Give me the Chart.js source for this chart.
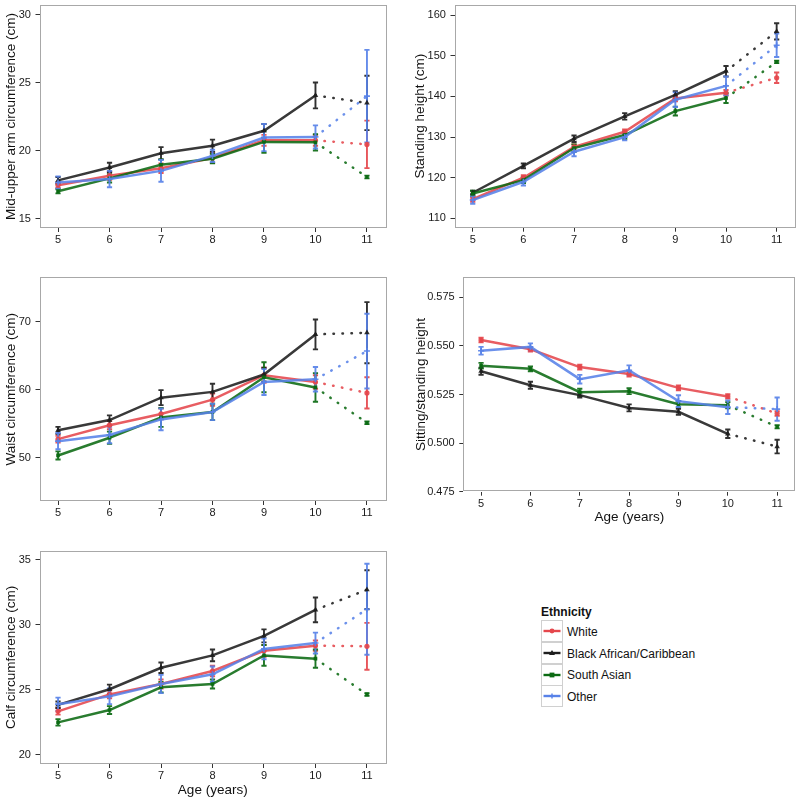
<!DOCTYPE html>
<html>
<head>
<meta charset="utf-8">
<script src="https://cdn.jsdelivr.net/npm/chart.js@4.4.0/dist/chart.umd.min.js"></script>
<style>
  body { margin: 0; background: #fff; width: 800px; height: 802px; position: relative; overflow: hidden;
         font-family: "Liberation Sans", Arial, sans-serif; }
  canvas { position: absolute; }
  #legend { position: absolute; left: 541px; top: 604px; font-size: 12px; color: #111; }
  #legend .title { font-weight: bold; height: 17px; line-height: 17px; }
  #legend .row { height: 21.7px; display: flex; align-items: center; }
  #legend .key { width: 20px; height: 20px; border: 1px solid #d0d0d0; margin-top: -1px; box-sizing: content-box; }
  #legend .row:first-of-type .key { margin-top: 0; }
  #legend .lab { margin-left: 4px; }
</style>
</head>
<body>
<canvas id="muac" width="400" height="265" style="left:0;top:0"></canvas>
<canvas id="height" width="400" height="265" style="left:400px;top:0"></canvas>
<canvas id="waist" width="400" height="265" style="left:0;top:265px"></canvas>
<canvas id="ratio" width="400" height="265" style="left:400px;top:265px"></canvas>
<canvas id="calf" width="400" height="272" style="left:0;top:530px"></canvas>
<div id="legend"></div>

<script>
// ages on the x axis, groups in legend order
const ages = [5, 6, 7, 8, 9, 10, 11];
const groups = ['White', 'Black African/Caribbean', 'South Asian', 'Other'];
const colors = ['#E5474C', '#1E1E1E', '#0B6A12', '#5882E8'];
const shapes = ['circle', 'triangle', 'rect', 'cross'];

// rows: White, Black African/Caribbean, South Asian, Other
const muacMean = [
    [17.45, 18.15, 18.7, 19.45, 20.75, 20.75, 20.45],
    [17.8, 18.75, 19.8, 20.35, 21.45, 24.05, 23.5],
    [17.0, 17.95, 18.95, 19.4, 20.63, 20.6, 18.05],
    [17.65, 17.9, 18.5, 19.6, 20.95, 21.0, 24.0]
];
const muacErr = [
    [0.2, 0.3, 0.35, 0.35, 0.4, 0.4, 1.75],
    [0.25, 0.35, 0.45, 0.45, 0.5, 0.95, 2.0],
    [0.15, 0.3, 0.4, 0.35, 0.8, 0.6, 0.1],
    [0.45, 0.6, 0.8, 0.45, 1.0, 0.85, 3.4]
];
const heightMean = [
    [114.7, 120.0, 127.6, 131.3, 139.5, 140.9, 144.6],
    [116.3, 122.9, 129.6, 135.1, 140.4, 146.2, 156.0],
    [116.1, 119.4, 127.3, 130.5, 136.4, 139.6, 148.5],
    [114.5, 119.0, 126.4, 130.0, 139.2, 142.6, 152.6]
];
const heightErr = [
    [0.6, 0.6, 0.6, 0.6, 0.7, 0.7, 1.3],
    [0.5, 0.6, 0.8, 0.8, 0.9, 1.3, 2.0],
    [0.7, 0.7, 0.9, 0.9, 1.1, 1.2, 0.3],
    [0.9, 0.9, 1.1, 0.8, 1.8, 2.3, 2.9]
];
const waistMean = [
    [52.7, 54.75, 56.4, 58.5, 62.1, 61.1, 59.5],
    [54.0, 55.5, 58.8, 59.65, 62.2, 68.1, 68.35],
    [50.3, 52.9, 55.9, 56.7, 61.8, 60.3, 55.1],
    [52.4, 53.3, 55.6, 56.7, 61.1, 61.5, 65.65]
];
const waistErr = [
    [0.5, 0.6, 0.8, 0.9, 1.1, 1.0, 2.3],
    [0.5, 0.7, 1.1, 1.2, 1.0, 2.2, 4.5],
    [0.6, 0.9, 1.4, 1.2, 2.2, 2.1, 0.2],
    [1.2, 1.2, 1.6, 1.2, 1.9, 1.8, 5.5]
];
const ratioMean = [
    [0.5530, 0.5483, 0.5391, 0.5355, 0.5284, 0.5240, 0.5152],
    [0.5370, 0.5298, 0.5247, 0.5181, 0.5161, 0.5048, 0.4982],
    [0.5398, 0.5382, 0.5262, 0.5267, 0.5200, 0.5195, 0.5084],
    [0.5475, 0.5495, 0.5329, 0.5375, 0.5216, 0.5185, 0.5175]
];
const ratioErr = [
    [0.0012, 0.0012, 0.0012, 0.0013, 0.0012, 0.0011, 0.0012],
    [0.0018, 0.0018, 0.0013, 0.0018, 0.0016, 0.0022, 0.0035],
    [0.0015, 0.0012, 0.0018, 0.0015, 0.0015, 0.0016, 0.0008],
    [0.0020, 0.0018, 0.0022, 0.0025, 0.0030, 0.0035, 0.0060]
];
const calfMean = [
    [23.35, 24.65, 25.45, 26.45, 28.0, 28.4, 28.35],
    [23.85, 25.05, 26.7, 27.65, 29.15, 31.15, 32.7],
    [22.5, 23.45, 25.2, 25.45, 27.65, 27.4, 24.65],
    [23.9, 24.5, 25.45, 26.2, 28.15, 28.6, 31.2]
];
const calfErr = [
    [0.25, 0.3, 0.35, 0.4, 0.45, 0.4, 1.8],
    [0.25, 0.35, 0.4, 0.45, 0.5, 0.95, 1.5],
    [0.25, 0.3, 0.4, 0.35, 0.8, 0.7, 0.1],
    [0.5, 0.6, 0.7, 0.6, 0.8, 0.8, 3.5]
];

const muacTicks = [15, 20, 25, 30];
const heightTicks = [110, 120, 130, 140, 150, 160];
const waistTicks = [50, 60, 70];
const ratioTicks = [0.475, 0.500, 0.525, 0.550, 0.575];
const calfTicks = [20, 25, 30, 35];

Chart.defaults.font.family = '"Liberation Sans", Arial, sans-serif';
Chart.defaults.font.size = 11;
Chart.defaults.color = '#1a1a1a';

function alpha(hex, a) {
    const n = parseInt(hex.slice(1), 16);
    return `rgba(${n >> 16}, ${(n >> 8) & 255}, ${n & 255}, ${a})`;
}

// error bars under the lines, grey panel border on top
const panelExtras = {
    id: 'panelExtras',
    beforeDatasetsDraw(chart) {
        const { ctx, scales: { x, y } } = chart;
        chart.data.datasets.forEach((ds) => {
            ctx.save();
            ctx.strokeStyle = ds.barColor;
            ctx.lineWidth = 1.9;
            ds.data.forEach((p, j) => {
                const e = ds.errors[j];
                const px = x.getPixelForValue(p.x);
                const top = y.getPixelForValue(p.y + e);
                const bot = y.getPixelForValue(p.y - e);
                ctx.beginPath();
                ctx.moveTo(px, top); ctx.lineTo(px, bot);
                ctx.moveTo(px - 2.6, top); ctx.lineTo(px + 2.6, top);
                ctx.moveTo(px - 2.6, bot); ctx.lineTo(px + 2.6, bot);
                ctx.stroke();
            });
            ctx.restore();
        });
    },
    afterDraw(chart) {
        const { ctx, chartArea: a } = chart;
        ctx.save();
        ctx.strokeStyle = '#a8a8a8';
        ctx.lineWidth = 1;
        ctx.strokeRect(Math.round(a.left) + 0.5, Math.round(a.top) + 0.5,
            Math.round(a.right - a.left) - 1, Math.round(a.bottom - a.top) - 1);
        ctx.restore();
    }
};

function makePanel(id, yTitle, means, errs, yTicks, yMin, yMax, box) {
    const datasets = groups.map((g, i) => ({
        label: g,
        data: ages.map((a, j) => ({ x: a, y: means[i][j] })),
        errors: errs[i],
        barColor: alpha(colors[i], 0.92),
        borderColor: alpha(colors[i], 0.88),
        backgroundColor: alpha(colors[i], 0.92),
        borderWidth: 2.5,
        borderCapStyle: 'round',
        pointStyle: shapes[i],
        pointRadius: shapes[i] === 'cross' ? 3 : (shapes[i] === 'triangle' ? 3.2 : 2.6),
        pointBorderWidth: shapes[i] === 'cross' ? 1.6 : 0,
        pointBorderColor: alpha(colors[i], 0.92),
        pointHoverRadius: 3,
        order: groups.length - i,
        tension: 0,
        segment: {
            borderDash: (ctx) => ctx.p0DataIndex === ages.length - 2 ? [0.5, 8.5] : undefined
        }
    }));

    new Chart(document.getElementById(id), {
        type: 'line',
        data: { datasets },
        options: {
            responsive: false,
            animation: false,
            layout: { padding: { top: box.padTop, right: box.padRight, left: 0, bottom: 0 } },
            plugins: { legend: { display: false }, tooltip: { enabled: false } },
            scales: {
                x: {
                    type: 'linear',
                    min: 4.64,
                    max: 11.37,
                    border: { display: false },
                    grid: { drawOnChartArea: false, drawTicks: true, tickLength: 4, tickColor: '#333', tickWidth: 1 },
                    ticks: { padding: 1.5, color: '#1a1a1a', callback: (v) => String(v) },
                    title: {
                        display: !!box.ageTitle,
                        text: 'Age (years)',
                        color: '#111',
                        font: { size: 13.5 },
                        padding: { top: 0, bottom: box.xTitlePad || 0 }
                    },
                    afterBuildTicks: (s) => { s.ticks = ages.map((v) => ({ value: v })); },
                    afterFit: (s) => { s.height = box.xHeight; s.paddingLeft = 0; s.paddingRight = 0; }
                },
                y: {
                    type: 'linear',
                    min: yMin,
                    max: yMax,
                    border: { display: false },
                    grid: { drawOnChartArea: false, drawTicks: true, tickLength: 4, tickColor: '#333', tickWidth: 1 },
                    ticks: {
                        padding: 4.6,
                        color: '#1a1a1a',
                        callback: (v) => box.decimals ? v.toFixed(box.decimals) : String(v)
                    },
                    title: {
                        display: true,
                        text: yTitle,
                        color: '#111',
                        font: { size: 13.5 },
                        padding: { top: box.yTitlePad, bottom: 0 }
                    },
                    afterBuildTicks: (s) => { s.ticks = yTicks.map((v) => ({ value: v })); },
                    afterFit: (s) => { s.width = box.yWidth; s.paddingTop = 0; s.paddingBottom = 0; }
                }
            }
        },
        plugins: [panelExtras]
    });
}

makePanel('muac', 'Mid-upper arm circumference (cm)', muacMean, muacErr, muacTicks, 14.3, 30.7,
    { padTop: 5, padRight: 14, yWidth: 39.5, xHeight: 37, yTitlePad: 2.7 });
makePanel('height', 'Standing height (cm)', heightMean, heightErr, heightTicks, 107.7, 162.6,
    { padTop: 4, padRight: 4, yWidth: 54.5, xHeight: 37.3, yTitlePad: 12.4 });
makePanel('waist', 'Waist circumference (cm)', waistMean, waistErr, waistTicks, 43.6, 76.5,
    { padTop: 12.3, padRight: 14, yWidth: 39.5, xHeight: 29, yTitlePad: 2.7 });
makePanel('ratio', 'Sitting/standing height', ratioMean, ratioErr, ratioTicks, 0.475, 0.5853,
    { padTop: 12.3, padRight: 4, yWidth: 63.3, xHeight: 38.3, yTitlePad: 12.7, ageTitle: true, xTitlePad: 4.2, decimals: 3 });
makePanel('calf', 'Calf circumference (cm)', calfMean, calfErr, calfTicks, 19.3, 35.7,
    { padTop: 20.7, padRight: 14, yWidth: 39.5, xHeight: 38, yTitlePad: 2.7, ageTitle: true, xTitlePad: 3.2 });

// legend drawn as html next to the bottom panel
function markerSvg(shape, color) {
    let m = '';
    if (shape === 'circle') m = `<circle cx="10" cy="10" r="2.4" fill="${color}"/>`;
    if (shape === 'triangle') m = `<polygon points="10,7 13,12 7,12" fill="${color}"/>`;
    if (shape === 'rect') m = `<rect x="7.6" y="7.6" width="4.8" height="4.8" fill="${color}"/>`;
    if (shape === 'cross') m = `<path d="M10 7.4V12.6M7.4 10H12.6" stroke="${color}" stroke-width="1.4"/>`;
    return `<svg width="20" height="20"><line x1="1.5" y1="10" x2="18.5" y2="10" stroke="${color}" stroke-width="2.4"/>${m}</svg>`;
}
const legend = document.getElementById('legend');
let html = '<div class="title">Ethnicity</div>';
groups.forEach((g, i) => {
    html += `<div class="row"><div class="key">${markerSvg(shapes[i], colors[i])}</div><div class="lab">${g}</div></div>`;
});
legend.innerHTML = html;
</script>
</body>
</html>
